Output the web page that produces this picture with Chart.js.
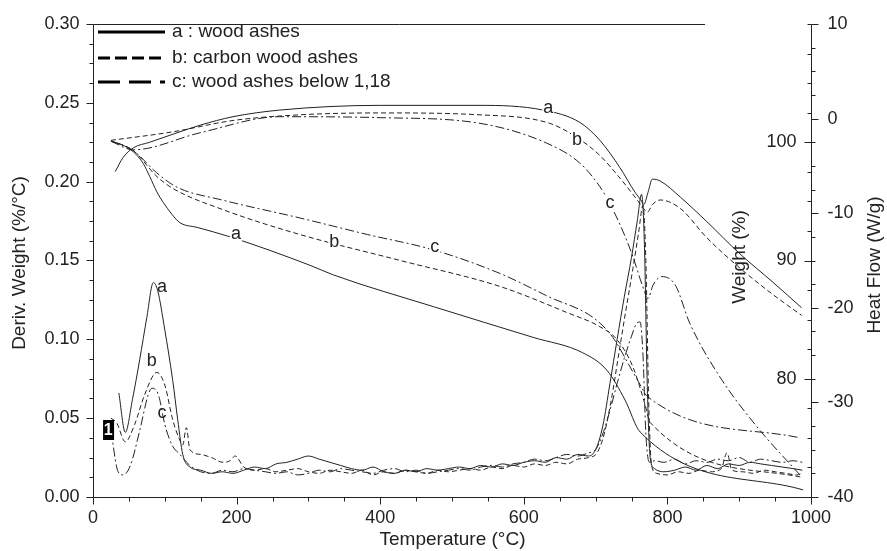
<!DOCTYPE html>
<html>
<head>
<meta charset="utf-8">
<script src="https://cdn.jsdelivr.net/npm/chart.js@4.4.0/dist/chart.umd.min.js"></script>
<style>
    html, body { margin: 0; padding: 0; background: #fff; }
    #wrap { width: 887px; height: 551px; }
</style>
</head>
<body>
<div id="wrap"><canvas id="chart" width="887" height="551"></canvas></div>
<script>
// TGA / DSC curves of three wood ash samples

// Weight (%) - right inner axis
const weightTempA = [25, 40, 56, 70, 79, 89, 98, 110, 121, 145, 191, 302, 334, 474, 613, 682, 716, 741, 762, 989];
const weightA = [100.1, 99.8, 99.2, 98.2, 97.1, 95.8, 94.9, 93.9, 93.2, 92.8, 92.0, 89.6, 88.8, 86.1, 83.5, 82.2, 80.7, 78.2, 75.5, 70.6];
const weightTempB = [25, 56, 89, 111, 181, 288, 428, 567, 660, 706, 730, 752, 769, 776, 985];
const weightB = [100.1, 99.3, 97.1, 96.1, 94.3, 92.2, 90.0, 87.8, 85.6, 84.4, 83.3, 81.0, 77.8, 76.3, 71.7];
const weightTempC = [25, 56, 89, 117, 181, 288, 382, 474, 567, 636, 696, 724, 748, 762, 772, 985];
const weightC = [100.1, 99.3, 97.4, 96.2, 95.1, 93.6, 92.2, 90.9, 88.9, 86.9, 85.2, 83.5, 81.0, 79.5, 78.5, 75.0];

// Heat flow (W/g) - right outer axis
const heatTempA = [31, 42, 56, 79, 117, 149, 195, 260, 400, 539, 627, 678, 706, 734, 755, 763, 767, 773, 779, 790, 818, 855, 901, 947, 987];
const heatA = [-5.6, -4.1, -3.1, -2.5, -1.5, -0.7, 0.2, 0.9, 1.4, 1.4, 0.9, -0.4, -2.3, -5.2, -7.8, -8.6, -9.1, -7.8, -6.4, -6.6, -8.3, -10.9, -14.3, -17.3, -20.0];
const heatTempB = [25, 111, 195, 288, 400, 539, 636, 674, 706, 734, 755, 769, 772, 779, 790, 818, 855, 901, 947, 987];
const heatB = [-2.3, -1.4, -0.2, 0.4, 0.6, 0.4, -0.5, -2.0, -3.9, -6.3, -8.3, -9.7, -9.9, -9.1, -8.6, -9.5, -12.6, -15.8, -18.6, -20.8];
const heatTempC = [25, 56, 149, 260, 400, 539, 632, 678, 706, 717, 734, 752, 765, 773, 780, 792, 811, 831, 873, 925, 985];
const heatC = [-2.4, -3.3, -1.5, 0.2, 0.1, -0.5, -2.6, -4.7, -7.2, -8.6, -11.2, -14.6, -17.6, -19.0, -17.6, -16.7, -17.6, -21.6, -27.3, -32.6, -37.7];

// Deriv. weight (%/°C) - left axis
const derivTempA = [36, 45, 55, 65, 75, 84, 90, 100, 111, 118, 125, 135, 150, 165, 180, 195, 210, 225, 240, 255, 270, 285, 300, 315, 330, 345, 360, 375, 390, 405, 420, 435, 450, 465, 480, 495, 510, 525, 540, 555, 570, 585, 600, 615, 630, 645, 660, 675, 690, 700, 710, 720, 730, 740, 750, 758, 764, 768, 772, 776, 782, 795, 810, 825, 840, 855, 870, 885, 900, 915, 930, 945, 960, 975, 988];
const derivA = [0.066, 0.041, 0.062, 0.087, 0.114, 0.136, 0.131, 0.106, 0.074, 0.049, 0.027, 0.019, 0.017, 0.015, 0.016, 0.015, 0.017, 0.019, 0.018, 0.021, 0.022, 0.024, 0.026, 0.024, 0.022, 0.020, 0.018, 0.017, 0.019, 0.016, 0.015, 0.017, 0.016, 0.018, 0.017, 0.018, 0.019, 0.018, 0.020, 0.019, 0.021, 0.020, 0.022, 0.023, 0.022, 0.025, 0.024, 0.027, 0.026, 0.030, 0.045, 0.072, 0.100, 0.127, 0.152, 0.175, 0.192, 0.160, 0.070, 0.025, 0.018, 0.016, 0.017, 0.019, 0.017, 0.020, 0.018, 0.021, 0.020, 0.022, 0.021, 0.020, 0.019, 0.018, 0.017];
const derivTempB = [25, 33, 45, 58, 72, 89, 100, 111, 121, 125, 130, 135, 150, 165, 181, 191, 198, 210, 225, 240, 255, 270, 285, 300, 315, 330, 345, 360, 375, 390, 405, 420, 435, 450, 465, 480, 495, 510, 525, 540, 555, 570, 585, 600, 615, 630, 645, 660, 675, 690, 702, 712, 722, 732, 742, 752, 760, 766, 770, 774, 778, 785, 800, 815, 830, 845, 860, 875, 883, 890, 905, 920, 935, 950, 965, 980, 988];
const derivB = [0.050, 0.047, 0.035, 0.046, 0.065, 0.079, 0.071, 0.049, 0.036, 0.033, 0.044, 0.030, 0.027, 0.025, 0.022, 0.023, 0.026, 0.019, 0.017, 0.018, 0.016, 0.017, 0.018, 0.016, 0.015, 0.017, 0.016, 0.015, 0.017, 0.014, 0.016, 0.015, 0.017, 0.016, 0.015, 0.017, 0.016, 0.017, 0.018, 0.017, 0.019, 0.018, 0.020, 0.019, 0.021, 0.020, 0.022, 0.021, 0.024, 0.025, 0.028, 0.040, 0.062, 0.090, 0.118, 0.145, 0.168, 0.185, 0.150, 0.060, 0.020, 0.015, 0.014, 0.016, 0.015, 0.017, 0.016, 0.018, 0.028, 0.017, 0.016, 0.015, 0.017, 0.016, 0.015, 0.014, 0.015];
const derivTempC = [25, 35, 42, 52, 65, 77, 82, 91, 100, 110, 121, 135, 150, 165, 180, 195, 210, 225, 240, 255, 270, 285, 300, 315, 330, 345, 360, 375, 390, 405, 420, 435, 450, 465, 480, 495, 510, 525, 540, 555, 570, 585, 600, 615, 630, 645, 660, 675, 690, 700, 710, 720, 730, 740, 750, 757, 762, 766, 770, 775, 782, 795, 810, 825, 840, 855, 870, 885, 900, 915, 930, 945, 960, 975, 988];
const derivC = [0.042, 0.016, 0.014, 0.020, 0.042, 0.065, 0.069, 0.065, 0.046, 0.033, 0.027, 0.020, 0.016, 0.015, 0.017, 0.016, 0.018, 0.017, 0.016, 0.015, 0.016, 0.014, 0.015, 0.017, 0.016, 0.018, 0.017, 0.016, 0.015, 0.017, 0.018, 0.016, 0.017, 0.015, 0.016, 0.017, 0.018, 0.017, 0.019, 0.020, 0.019, 0.021, 0.022, 0.024, 0.023, 0.025, 0.027, 0.026, 0.028, 0.030, 0.040, 0.055, 0.072, 0.088, 0.102, 0.110, 0.111, 0.090, 0.040, 0.022, 0.023, 0.022, 0.024, 0.021, 0.023, 0.022, 0.024, 0.023, 0.025, 0.022, 0.024, 0.023, 0.022, 0.023, 0.022];

// Tick labels
const xTicks = [0, 200, 400, 600, 800, 1000];
const derivTicks = [0, 0.05, 0.10, 0.15, 0.20, 0.25, 0.30];
const weightTicks = [80, 90, 100];
const heatTicks = [-40, -30, -20, -10, 0, 10];

// Legend and curve letters
const legendNames = ['a : wood ashes', 'b: carbon wood ashes', 'c: wood ashes below 1,18'];
const curveLetters = ['a', 'b', 'c'];
const heatLabelTemps = [634, 674, 720];
const heatLabelVals = [1.1, -2.3, -8.9];
const weightLabelTemps = [199, 336, 476];
const weightLabelVals = [92.2, 91.6, 91.1];
const derivLabelTemps = [96, 82, 96];
const derivLabelVals = [0.133, 0.086, 0.053];
const markerTemp = 21;
const markerVal = 0.0425;

const FONT = '"Liberation Sans", Arial, sans-serif';
const ink = '#222';
const curveDash = [[], [5, 3], [9, 3, 2, 3]];
const legendDash = [[], [12, 5], [22, 9]];

function series(temps, vals, axis, sample) {
    return {
        data: temps.map((t, i) => ({ x: t, y: vals[i] })),
        yAxisID: axis,
        borderColor: ink,
        borderWidth: 1,
        borderDash: curveDash[sample],
        pointRadius: 0,
        showLine: true,
        fill: false,
        cubicInterpolationMode: 'monotone'
    };
}

// draw ticks along one axis; dir = +1 / -1 sets the side
function drawTicks(ctx, scale, min, step, count, majors, vertical, pos, dir) {
    ctx.beginPath();
    for (let i = 0; i <= count; i++) {
        const v = min + i * step;
        const isMajor = majors.some(m => Math.abs(m - v) < step / 10);
        const len = isMajor ? 7 : 4;
        const p = Math.round(scale.getPixelForValue(v)) + 0.5;
        if (vertical) {
            ctx.moveTo(pos, p);
            ctx.lineTo(pos + dir * len, p);
        } else {
            ctx.moveTo(p, pos);
            ctx.lineTo(p, pos + dir * len);
        }
    }
    ctx.stroke();
}

function boxedText(ctx, text, x, y) {
    const w = ctx.measureText(text).width;
    ctx.fillStyle = '#fff';
    ctx.fillRect(x - w / 2 - 1, y - 8, w + 2, 16);
    ctx.fillStyle = ink;
    ctx.fillText(text, x, y);
}

const frameAndText = {
    id: 'frameAndText',
    afterDraw(chart) {
        const ctx = chart.ctx;
        const area = chart.chartArea;
        const sx = chart.scales.x;
        const sd = chart.scales.yDeriv;
        const sw = chart.scales.yWeight;
        const sh = chart.scales.yHeat;
        const L = Math.round(area.left) + 0.5;
        const R = Math.round(area.right) + 0.5;
        const T = Math.round(area.top) + 0.5;
        const B = Math.round(area.bottom) + 0.5;

        ctx.save();
        ctx.strokeStyle = ink;
        ctx.fillStyle = ink;
        ctx.lineWidth = 1;
        ctx.setLineDash([]);

        // frame: open at the top except over the legend
        ctx.beginPath();
        ctx.moveTo(L, T);
        ctx.lineTo(L, B);
        ctx.lineTo(R, B);
        ctx.lineTo(R, T);
        ctx.moveTo(L, T);
        ctx.lineTo(705, T);
        ctx.stroke();

        drawTicks(ctx, sx, 0, 50, 20, xTicks, false, B, 1);
        drawTicks(ctx, sd, 0, 0.0125, 24, derivTicks, true, L, -1);
        drawTicks(ctx, sw, 70, 2.5, 16, weightTicks, true, R, -1);
        drawTicks(ctx, sh, -40, 2.5, 20, heatTicks, true, R, 1);

        ctx.font = '18px ' + FONT;
        ctx.textBaseline = 'middle';
        ctx.textAlign = 'center';
        xTicks.forEach(v => ctx.fillText(String(v), sx.getPixelForValue(v), B + 21));
        ctx.textAlign = 'right';
        derivTicks.forEach(v => ctx.fillText(v.toFixed(2), L - 14, sd.getPixelForValue(v)));
        weightTicks.forEach(v => ctx.fillText(String(v), R - 15, sw.getPixelForValue(v)));
        ctx.textAlign = 'left';
        heatTicks.forEach(v => ctx.fillText(String(v), R + 16, sh.getPixelForValue(v)));

        // axis titles
        ctx.font = '19px ' + FONT;
        ctx.textAlign = 'center';
        ctx.fillText('Temperature (°C)', (L + R) / 2, 540);
        const vTitle = (text, x, y) => {
            ctx.save();
            ctx.translate(x, y);
            ctx.rotate(-Math.PI / 2);
            ctx.fillText(text, 0, 0);
            ctx.restore();
        };
        vTitle('Deriv. Weight (%/°C)', 20, 263);
        vTitle('Heat Flow (W/g)', 875, 265);
        vTitle('Weight (%)', 740, 257);

        // curve letters
        ctx.font = '18px ' + FONT;
        curveLetters.forEach((c, i) => {
            boxedText(ctx, c, sx.getPixelForValue(heatLabelTemps[i]), sh.getPixelForValue(heatLabelVals[i]));
            boxedText(ctx, c, sx.getPixelForValue(weightLabelTemps[i]), sw.getPixelForValue(weightLabelVals[i]));
            ctx.fillText(c, sx.getPixelForValue(derivLabelTemps[i]), sd.getPixelForValue(derivLabelVals[i]));
        });

        // "1" marker
        const mx = sx.getPixelForValue(markerTemp);
        const my = sd.getPixelForValue(markerVal);
        ctx.fillStyle = '#000';
        ctx.fillRect(mx - 5, my - 10, 11, 20);
        ctx.fillStyle = '#fff';
        ctx.font = 'bold 16px ' + FONT;
        ctx.fillText('1', mx, my + 1);

        // legend
        ctx.fillStyle = ink;
        ctx.font = '19px ' + FONT;
        ctx.textAlign = 'left';
        const legendY = [32, 58, 82];
        legendNames.forEach((name, i) => {
            ctx.save();
            ctx.lineWidth = 3;
            ctx.strokeStyle = '#000';
            ctx.setLineDash(legendDash[i]);
            ctx.beginPath();
            ctx.moveTo(98, legendY[i]);
            ctx.lineTo(165, legendY[i]);
            ctx.stroke();
            ctx.restore();
            ctx.fillText(name, 172, legendY[i]);
        });
        ctx.restore();
    }
};

new Chart(document.getElementById('chart'), {
    type: 'scatter',
    data: {
        datasets: [
            series(weightTempA, weightA, 'yWeight', 0),
            series(weightTempB, weightB, 'yWeight', 1),
            series(weightTempC, weightC, 'yWeight', 2),
            series(heatTempA, heatA, 'yHeat', 0),
            series(heatTempB, heatB, 'yHeat', 1),
            series(heatTempC, heatC, 'yHeat', 2),
            series(derivTempA, derivA, 'yDeriv', 0),
            series(derivTempB, derivB, 'yDeriv', 1),
            series(derivTempC, derivC, 'yDeriv', 2)
        ]
    },
    options: {
        responsive: false,
        animation: false,
        layout: {
            padding: { left: 93, right: 76, top: 24, bottom: 54 }
        },
        scales: {
            x: { type: 'linear', min: 0, max: 1000, display: false },
            yDeriv: { type: 'linear', position: 'left', min: 0, max: 0.30, display: false },
            yWeight: { type: 'linear', position: 'right', min: 70, max: 110, display: false },
            yHeat: { type: 'linear', position: 'right', min: -40, max: 10, display: false }
        },
        plugins: {
            legend: { display: false },
            tooltip: { enabled: false }
        }
    },
    plugins: [frameAndText]
});
</script>
</body>
</html>
